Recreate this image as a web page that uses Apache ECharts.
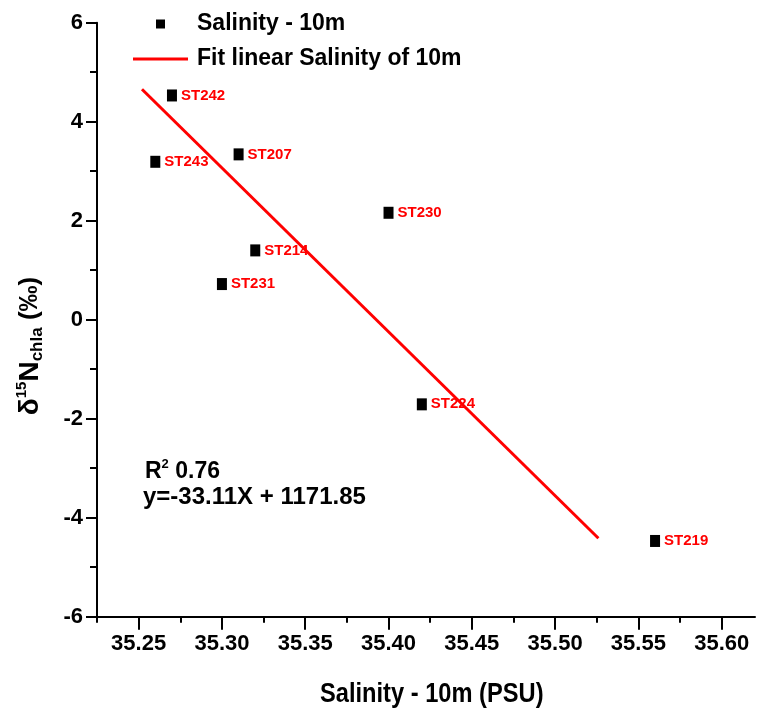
<!DOCTYPE html>
<html>
<head>
<meta charset="utf-8">
<title>δ15N chla vs Salinity - 10m</title>
<script src="https://cdn.jsdelivr.net/npm/echarts@6/dist/echarts.min.js"></script>
<style>
  html, body { margin: 0; padding: 0; background: #fff; }
  #chart { width: 757px; height: 708px; }
</style>
</head>
<body>
<div id="chart"></div>
<script>
// Stations sampled at 10 m: salinity (PSU) and δ15N of chlorophyll a (‰)
const stations = ['ST242', 'ST243', 'ST207', 'ST230', 'ST214', 'ST231', 'ST224', 'ST219'];
const salinity = [35.27, 35.26, 35.31, 35.40, 35.32, 35.30, 35.42, 35.56];
const d15N     = [4.53, 3.19, 3.34, 2.16, 1.40, 0.72, -1.71, -4.47];

// Linear fit of δ15N on salinity
const fitSlope = -33.11;
const fitIntercept = 1171.85;
const fitR2 = 0.76;
const fitRange = [35.252, 35.526];

// Axis ticks
const xMajorTicks = [35.25, 35.30, 35.35, 35.40, 35.45, 35.50, 35.55, 35.60];
const xMinorTicks = [35.225, 35.275, 35.325, 35.375, 35.425, 35.475, 35.525, 35.575];
const yRange = [-6, 6];
const yStep = 2;

const SANS = "'Liberation Sans', Arial, sans-serif";

const scatterData = stations.map((name, i) => ({ name, value: [salinity[i], d15N[i]] }));
const fitData = fitRange.map(x => [x, fitSlope * x + fitIntercept]);

const chart = echarts.init(document.getElementById('chart'), null, { renderer: 'canvas' });

const axisLineStyle = { color: '#000', width: 2 };

chart.setOption({
  animation: false,
  backgroundColor: '#fff',
  grid: { left: 97, right: 2, top: 22.7, bottom: 91.3, containLabel: false },
  legend: {
    orient: 'vertical',
    left: 133,
    top: 12.5,
    padding: 0,
    itemGap: 12,
    itemWidth: 55,
    itemHeight: 9,
    textStyle: { fontFamily: SANS, fontWeight: 'bold', fontSize: 23, color: '#000', padding: [0, 0, 0, 4] },
    data: [
      { name: 'Salinity - 10m', icon: 'path://M0,0h10v10h-10z' },
      { name: 'Fit linear Salinity of 10m', icon: 'path://M0,0h55v3h-55z' }
    ]
  },
  xAxis: [
    {
      type: 'value',
      min: 35.225,
      max: 35.62,
      position: 'bottom',
      splitLine: { show: false },
      axisLine: { onZero: false, lineStyle: axisLineStyle },
      axisTick: { customValues: xMajorTicks, length: 13, lineStyle: axisLineStyle },
      axisLabel: {
        customValues: xMajorTicks,
        formatter: v => v.toFixed(2),
        margin: 16,
        fontFamily: SANS, fontWeight: 'bold', fontSize: 22, color: '#000'
      }
    },
    {
      type: 'value',
      min: 35.225,
      max: 35.62,
      position: 'bottom',
      splitLine: { show: false },
      axisLine: { show: false, onZero: false },
      axisTick: { customValues: xMinorTicks, length: 6, lineStyle: axisLineStyle },
      axisLabel: { show: false }
    }
  ],
  yAxis: {
    type: 'value',
    min: yRange[0],
    max: yRange[1],
    interval: yStep,
    splitLine: { show: false },
    axisLine: { show: true, onZero: false, lineStyle: axisLineStyle },
    axisTick: { show: true, length: 11, lineStyle: axisLineStyle },
    minorTick: { show: true, splitNumber: 2, length: 7, lineStyle: axisLineStyle },
    minorSplitLine: { show: false },
    axisLabel: { margin: 14, fontFamily: SANS, fontWeight: 'bold', fontSize: 22, color: '#000' }
  },
  series: [
    {
      name: 'Salinity - 10m',
      type: 'scatter',
      symbol: 'rect',
      symbolSize: [10, 12],
      itemStyle: { color: '#000', opacity: 1 },
      data: scatterData,
      label: {
        show: true,
        position: 'right',
        distance: 4,
        formatter: p => p.name,
        fontFamily: SANS, fontWeight: 'bold', fontSize: 15, color: '#ff0000'
      },
      z: 3
    },
    {
      name: 'Fit linear Salinity of 10m',
      type: 'line',
      symbol: 'none',
      lineStyle: { color: '#ff0000', width: 3 },
      itemStyle: { color: '#ff0000' },
      data: fitData,
      z: 4
    }
  ],
  graphic: [
    {
      type: 'text',
      x: 320, y: 680,
      scaleX: 0.845,
      style: {
        text: 'Salinity - 10m (PSU)',
        fontFamily: SANS, fontWeight: 'bold', fontSize: 28, fill: '#000'
      }
    },
    {
      type: 'text',
      x: 30, y: 346,
      rotation: Math.PI / 2,
      style: {
        text: '{d|δ}{sup|15}{n|N}{sub|chla}{p| (‰)}',
        align: 'center',
        verticalAlign: 'middle',
        fill: '#000',
        rich: {
          d:   { fontFamily: SANS, fontWeight: 'bold', fontSize: 28, lineHeight: 32, verticalAlign: 'middle' },
          sup: { fontFamily: SANS, fontWeight: 'bold', fontSize: 15, lineHeight: 32, verticalAlign: 'top', padding: [0, 0, 12, 0] },
          n:   { fontFamily: SANS, fontWeight: 'bold', fontSize: 28, lineHeight: 32, verticalAlign: 'middle' },
          sub: { fontFamily: SANS, fontWeight: 'bold', fontSize: 17, lineHeight: 32, verticalAlign: 'bottom', padding: [8, 0, 0, 0] },
          p:   { fontFamily: SANS, fontWeight: 'bold', fontSize: 26, lineHeight: 32, verticalAlign: 'middle' }
        }
      }
    },
    {
      type: 'text',
      left: 145, top: 458,
      style: {
        text: '{m|R}{sup|2}{m| ' + fitR2.toFixed(2) + '}',
        fill: '#000',
        rich: {
          m:   { fontFamily: SANS, fontWeight: 'bold', fontSize: 23, lineHeight: 28, verticalAlign: 'middle' },
          sup: { fontFamily: SANS, fontWeight: 'bold', fontSize: 13, lineHeight: 28, verticalAlign: 'top' }
        }
      }
    },
    {
      type: 'text',
      left: 143, top: 485,
      style: {
        text: 'y=' + fitSlope.toFixed(2) + 'X + ' + fitIntercept.toFixed(2),
        fontFamily: SANS, fontWeight: 'bold', fontSize: 24, fill: '#000'
      }
    }
  ]
});
</script>
</body>
</html>
